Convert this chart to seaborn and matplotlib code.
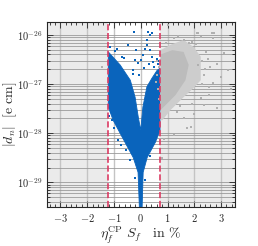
import numpy as np
import matplotlib
matplotlib.use("Agg")
import matplotlib.pyplot as plt
import matplotlib.ticker as mticker
import seaborn as sns

# cut on eta*S (dashed lines)
cut_low = -1.22
cut_high = 0.73

# dense blue region (points passing the cut), outline
blue_band_x = [-1.21, -0.77, -0.39, -0.21, -0.09, 0.0, 0.08, 0.23, 0.42, 0.61, 0.72,
               0.72, 0.55, 0.24, 0.09, 0.05, -0.05, -0.10, -0.28, -0.77, -1.03, -1.21]
blue_band_y = [4.5e-27, 2.45e-27, 1.2e-27, 5.4e-28, 2.1e-28, 1.15e-28, 3.4e-28, 8.8e-28, 1.32e-27,
               1.9e-27, 2.1e-27, 1.15e-28, 6.6e-29, 3.2e-29, 1.6e-29, 3.0e-30, 3.0e-30, 1.6e-29,
               3.2e-29, 1.0e-28, 1.84e-28, 3.4e-28]

# scattered blue points outside the dense band
blue_x = [-0.24, 0.28, 0.35, 0.41, 0.22, 0.22, -0.16, -0.22, -0.12, 0.35, 0.41, 0.47, -0.28,
          -0.89, 0.17, 0.09, -0.47, -0.62, -1.07, -1.0, -0.85, -0.73, -0.55, -0.39, -0.33,
          -1.11, 0.36, 0.55, 0.62, -0.21, 0.17, -0.075, 0.02, -1.15, -0.95, -0.70, 0.60, 0.66,
          -1.17, -0.60, -0.45, 0.30, 0.50, 0.66, -0.30, 0.14]
blue_y = [1.17e-26, 1.17e-26, 1.0e-26, 1.08e-26, 7.9e-27, 6.3e-27, 4.9e-27, 3.1e-27, 2.7e-27,
          4.9e-27, 3.6e-27, 2.85e-27, 1.9e-27, 5.1e-27, 5.1e-27, 3.9e-27, 6.3e-27, 3.4e-27,
          1.85e-28, 1.26e-28, 7.2e-29, 5.7e-29, 4.5e-29, 2.8e-29, 3.9e-29, 2.7e-28, 3.5e-29,
          7.2e-29, 1.15e-28, 1.2e-29, 1.1e-29, 1.5e-27, 3.1e-27, 5.6e-27, 4.6e-27, 3.6e-27,
          3.3e-27, 3.0e-27, 2.2e-28, 1.5e-28, 7.0e-29, 2.6e-27, 2.2e-27, 2.5e-27, 1.6e-27,
          2.1e-27]

# dense grey region (points failing the cut): outer halo and inner core
grey_halo_x = [0.74, 1.11, 1.60, 1.97, 2.24, 2.24, 1.97, 1.60, 1.11, 0.81, 0.74]
grey_halo_y = [4.9e-27, 6.3e-27, 7.9e-27, 5.7e-27, 3.6e-27, 1.2e-27, 8.3e-28, 5.4e-28, 2.95e-28,
               1.84e-28, 1.84e-28]
grey_core_x = [0.74, 1.18, 1.60, 1.79, 1.67, 1.30, 0.92, 0.74]
grey_core_y = [4.0e-27, 4.9e-27, 4.5e-27, 2.45e-27, 1.2e-27, 6.0e-28, 3.7e-28, 2.95e-28]

# scattered grey points
grey_x = [2.74, 2.68, 2.11, 2.24, 1.92, 1.61, 1.80, 3.11, 2.86, 3.24, 2.99, 2.68, 2.55, 2.86,
          1.86, 1.74, 1.23, 0.86, 1.61, 1.98, 2.36, 1.36, 2.24, 2.54, 3.36, 1.03, 2.12, 2.65,
          -1.46, 0.81, 2.30, 2.40, 2.45, 2.35, 2.50, 2.05, 2.15, 1.40, 1.25, 0.95, 2.60, 2.30,
          0.60, 0.65, 0.70, 0.68, 0.62, 0.58, 1.45, 1.90]
grey_y = [1.08e-26, 8.6e-27, 1.08e-26, 9.2e-27, 7.3e-27, 7.9e-27, 6.8e-27, 4.2e-27, 2.6e-27,
          1.9e-27, 1.4e-27, 1.03e-27, 8.8e-28, 3.2e-28, 1.35e-28, 1.25e-28, 9.1e-29, 7.8e-29,
          2.0e-28, 2.5e-28, 3.7e-28, 2.7e-28, 5.1e-28, 6.0e-28, 8.1e-28, 1.6e-26, 1.1e-26,
          1.08e-26, 2.25e-27, 3.2e-29, 2.9e-27, 2.0e-27, 4.4e-27, 1.5e-27, 3.3e-27, 6.6e-27,
          2.4e-27, 9.5e-27, 8.5e-27, 7.0e-27, 2.2e-27, 1.0e-27, 1.5e-27, 8e-28, 2.2e-27, 5e-28,
          3e-27, 1.1e-27, 3.6e-28, 4.0e-28]

x_ticks = [-3, -2, -1, 0, 1, 2, 3]
y_ticks = [1e-29, 1e-28, 1e-27, 1e-26]

blue = "#0a64bc"
grey = "#b0b0b0"
red = "#dc3c64"

sns.set_style("ticks")
plt.rcParams["mathtext.fontset"] = "cm"
plt.rcParams["font.family"] = ["DejaVu Serif"]

fig = plt.figure(figsize=(2.58, 2.46), dpi=100)
ax = fig.add_axes([0.182, 0.157, 0.727, 0.755])
ax.set_facecolor("#ebebeb")
ax.set_yscale("log")
ax.set_xlim(-3.5, 3.5)
ax.set_ylim(3.1e-30, 1.86e-26)

# white region inside the cut
ax.axvspan(cut_low, cut_high, color="white", zorder=0.2, lw=0)

# grid
ax.set_axisbelow(True)
ax.grid(axis="x", which="major", color="#c4c4c4", lw=1.0)
ax.grid(axis="y", which="both", color="#9a9a9a", lw=0.6)

# blue points (pass the cut)
ax.fill(blue_band_x, blue_band_y, color=blue, lw=0.6, ec=blue, zorder=2)
sns.scatterplot(x=blue_x, y=blue_y, ax=ax, color=blue, marker="s", s=3, linewidth=0, zorder=2)

# grey points (fail the cut), drawn on top
ax.fill(grey_halo_x, grey_halo_y, color="#cdcdcd", lw=0, zorder=2.6)
ax.fill(grey_core_x, grey_core_y, color="#bcbcbc", lw=0, zorder=2.7)
sns.scatterplot(x=grey_x, y=grey_y, ax=ax, color=grey, marker="s", s=3, linewidth=0, zorder=3)

ax.axvline(cut_low, color=red, ls="--", lw=1.2, zorder=4)
ax.axvline(cut_high, color=red, ls="--", lw=1.2, zorder=4)

# ticks
ax.set_xticks(x_ticks)
ax.set_xticklabels([rf"${t}$" for t in x_ticks])
ax.xaxis.set_minor_locator(mticker.MultipleLocator(0.2))
ax.set_yticks(y_ticks)
ax.set_yticklabels([rf"$10^{{{int(np.log10(t))}}}$" for t in y_ticks])
ax.yaxis.set_minor_locator(mticker.LogLocator(base=10, subs=np.arange(2, 10)))
ax.yaxis.set_minor_formatter(mticker.NullFormatter())
ax.tick_params(which="both", direction="in", top=True, right=True, labelsize=7.5, width=0.6, pad=3)
ax.tick_params(which="major", length=4)
ax.tick_params(which="minor", length=2)
for s in ax.spines.values():
    s.set_linewidth(0.8)

ax.set_xlabel(r"$\eta_f^{\rm CP}\ S_f\quad {\rm in}\ \%$", fontsize=10, labelpad=1)
ax.set_ylabel(r"$|d_n|\ \ [{\rm e\ cm}]$", fontsize=10)
ax.yaxis.set_label_coords(-0.15, 0.5)

fig.savefig("out.png", dpi=100)
